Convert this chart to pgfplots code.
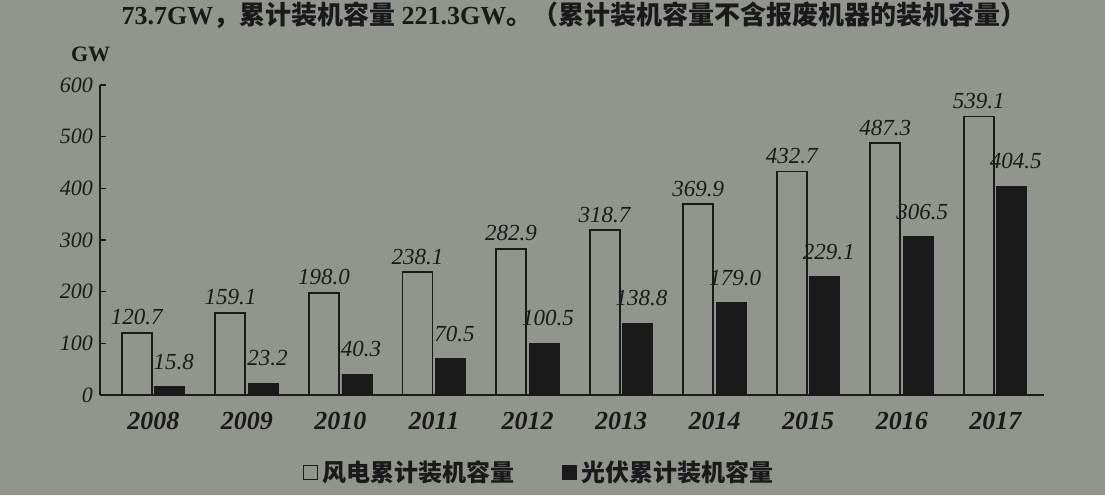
\documentclass[border=0pt]{standalone}
\usepackage{pgfplots}
\pgfplotsset{compat=1.18}
\usepackage{fontspec}
\setmainfont{Liberation Serif}
\newfontfamily\cjk{Noto Sans CJK SC}
\definecolor{paper}{RGB}{145,149,142}
\definecolor{ink}{RGB}{26,26,26}

\begin{document}
\begin{tikzpicture}
\fill[paper] (0pt,0pt) rectangle (552.5pt,247.5pt);
\node[text=ink, font=\fontsize{13}{13}\selectfont\bfseries] at (287pt,240pt)
  {73.7GW{\cjk ，累计装机容量} 221.3GW{\cjk 。（累计装机容量不含报废机器的装机容量）}};
\begin{axis}[
  at={(50pt,50pt)}, anchor=south west, scale only axis,
  width=472pt, height=155pt,
  ybar=1.5pt, bar width=15pt,
  xmin=-0.57, xmax=9.52, ymin=0, ymax=600,
  ytick={0,100,...,600},
  xtick={0,...,9},
  xticklabels={2008,2009,2010,2011,2012,2013,2014,2015,2016,2017},
  axis x line=bottom, axis y line=left,
  axis line style={-, draw=ink, line width=0.9pt},
  tick align=inside, major tick length=3pt,
  ytick style={draw=ink, line width=0.8pt},
  xtick style={draw=none},
  /pgf/number format/assume math mode=true,
  yticklabel style={text=ink, font=\fontsize{11}{11}\selectfont\itshape},
  xticklabel style={text=ink, font=\fontsize{13}{13}\selectfont\bfseries\itshape, yshift=-5pt},
  nodes near coords,
  every node near coord/.append style={text=ink, font=\fontsize{11.5}{11.5}\selectfont\itshape,
    /pgf/number format/fixed, /pgf/number format/fixed zerofill, /pgf/number format/precision=1},
  clip=false,
  legend style={at={(0.466,-0.25)}, anchor=center, draw=none, fill=none,
    text=ink, font=\cjk\bfseries\fontsize{12}{12}\selectfont,
    /tikz/every even column/.append style={column sep=22pt}},
  legend columns=2,
  legend image code/.code={\draw[#1] (0pt,-3.5pt) rectangle (7pt,3.5pt);},
]
\addplot[draw=ink, fill=paper, line width=0.9pt] coordinates {
  (0,120.7) (1,159.1) (2,198.0) (3,238.1) (4,282.9)
  (5,318.7) (6,369.9) (7,432.7) (8,487.3) (9,539.1)
};
\addplot[draw=ink, fill=ink,
  every node near coord/.append style={yshift=5pt, xshift=2pt}] coordinates {
  (0,15.8) (1,23.2) (2,40.3) (3,70.5) (4,100.5)
  (5,138.8) (6,179.0) (7,229.1) (8,306.5) (9,404.5)
};
\legend{风电累计装机容量, 光伏累计装机容量}
\node[text=ink, font=\fontsize{11}{11}\selectfont\bfseries, anchor=south]
  at (rel axis cs:-0.01,1) [yshift=8pt] {GW};
\end{axis}
\pgfresetboundingbox
\path[use as bounding box] (0pt,0pt) rectangle (552.5pt,247.5pt);
\end{tikzpicture}
\end{document}
